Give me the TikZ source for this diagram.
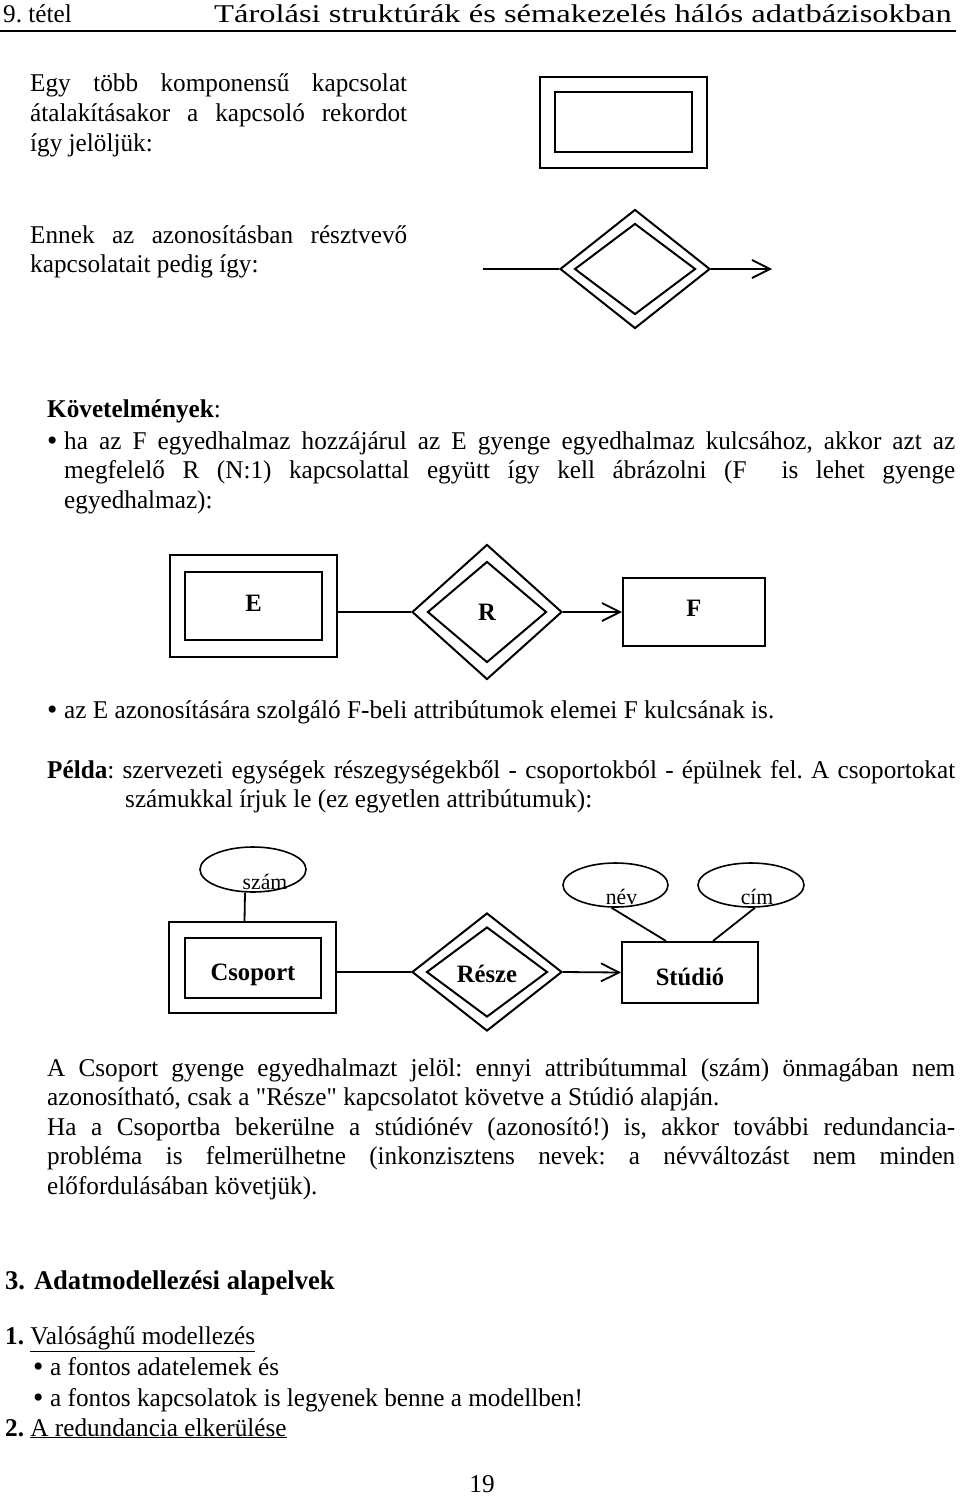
\documentclass[tikz,border=0pt]{standalone}
\usepackage{fontspec}
\setmainfont{Liberation Serif}[FakeStretch=0.985]
\newfontfamily\szeles{Liberation Serif}[FakeStretch=1.27]
\usetikzlibrary{shapes.geometric,arrows.meta}
\newcommand\torzs{\fontsize{25.6}{29.5}\selectfont\frenchspacing}
\newcommand\cimke{\fontsize{25}{28}\selectfont\bfseries}
\newcommand\tcimke{\fontsize{22}{24}\selectfont}
\newcommand\pont{\makebox[14pt][l]{\hspace{-3pt}\raisebox{-1pt}{\fontsize{30}{30}\selectfont •}}}
\newcommand\lent[2]{\raisebox{-#1pt}[0pt][0pt]{#2}}
\tikzset{>={Straight Barb[length=18pt,width=18pt]}}
\tikzset{
  szoveg/.style={inner sep=0pt,font=\torzs,anchor=base west},
  bekezd/.style={szoveg,text width=#1,align=justify,
    execute at begin node={\hyphenpenalty=10000}},
  egyed/.style={draw,rectangle,line width=2pt,inner sep=0pt,font=\cimke},
  kapcs/.style={draw,diamond,line width=2pt,inner sep=0pt,font=\cimke},
  tulaj/.style={draw,ellipse,line width=1.6pt,inner sep=0pt},
  vonal/.style={line width=1.8pt}
}

\begin{document}
\begin{tikzpicture}[x=1pt,y=-1pt]
    \useasboundingbox (0,0) rectangle (960,1496);
    % fejlec
    \node[szoveg] (fszam) at (3,23) {9. tétel};
    \node[szoveg,font=\torzs\szeles,anchor=base east] (fcim) at (952,23) {Tárolási struktúrák és sémakezelés hálós adatbázisokban};
    \draw[line width=2pt] (0,31) -- (956,31);

    % kapcsolo rekord
    \node[bekezd=377pt] (p1) at (30,92) {Egy több komponensű kapcsolat\linebreak átalakításakor a kapcsoló rekordot\linebreak így jelöljük:};
    \node[egyed,minimum width=167pt,minimum height=91pt] (rk) at (623.5,122.5) {};
    \node[egyed,minimum width=137pt,minimum height=60pt] (rb) at (623.5,122) {};

    % azonosito kapcsolat
    \node[bekezd=377pt] (p2) at (30,243) {Ennek az azonosításban résztvevő\linebreak kapcsolatait pedig így:};
    \coordinate (kbe) at (483,269);
    \coordinate (kki) at (772,269);
    \node[kapcs,minimum width=150pt,minimum height=119pt] (ak) at (635,269) {};
    \node[kapcs,minimum width=121pt,minimum height=91pt] (ab) at (635,269) {};
    \draw[vonal] (kbe) -- (ak.west);
    \draw[vonal,->] (ak.east) -- (kki);

    % kovetelmenyek
    \node[szoveg] (kov) at (47,417) {\textbf{Követelmények}:};
    \node[bekezd=905pt] (b1) at (50,449) {\hangindent=14pt\hangafter=1 \pont ha az F egyedhalmaz hozzájárul az E gyenge egyedhalmaz kulcsához, akkor azt az\linebreak megfelelő R (N:1) kapcsolattal együtt így kell ábrázolni (F\ \ is lehet gyenge\linebreak egyedhalmaz):\par};

    \node[egyed,minimum width=167pt,minimum height=102pt] (ek) at (253.5,606) {};
    \node[egyed,minimum width=137pt,minimum height=68pt] (eb) at (253.5,606) {\lent{5.5}{E}};
    \node[kapcs,minimum width=150pt,minimum height=135pt] (rk3) at (487,612) {};
    \node[kapcs,minimum width=119pt,minimum height=101pt] (rb3) at (487,612) {\lent{8}{R}};
    \node[egyed,minimum width=142pt,minimum height=68pt] (f) at (694,612) {\lent{4}{F}};
    \draw[vonal] (ek.east |- rk3.west) -- (rk3.west);
    \draw[vonal,->] (rk3.east) -- (f.west);

    \node[szoveg] (b2) at (50,718) {\pont az E azonosítására szolgáló F-beli attribútumok elemei F kulcsának is.};

    % pelda
    \node[bekezd=908pt] (pl) at (47,778) {\hangindent=78pt\hangafter=1 \textbf{Példa}: szervezeti egységek részegységekből - csoportokból - épülnek fel. A csoportokat\linebreak számukkal írjuk le (ez egyetlen attribútumuk):\par};

    \node[tulaj,minimum width=106pt,minimum height=45pt,label={[font=\tcimke,inner sep=0pt,xshift=12pt,yshift=-12pt]center:szám}] (szam) at (253,869.5) {};
    \node[egyed,minimum width=167pt,minimum height=91pt] (csopk) at (252.5,967.5) {};
    \node[egyed,minimum width=136pt,minimum height=60pt] (csopb) at (253,968) {\lent{12.5}{Csoport}};
    \node[kapcs,minimum width=150pt,minimum height=118pt] (reszk) at (487,972) {};
    \node[kapcs,minimum width=121pt,minimum height=90pt] (reszb) at (487,972) {\lent{10}{Része}};
    \node[egyed,minimum width=136pt,minimum height=61pt] (stud) at (690,972.5) {\lent{12.5}{Stúdió}};
    \node[tulaj,minimum width=105pt,minimum height=44pt,label={[font=\tcimke,inner sep=0pt,xshift=6pt,yshift=-12pt]center:név}] (nev) at (615.5,885) {};
    \node[tulaj,minimum width=106pt,minimum height=44pt,label={[font=\tcimke,inner sep=0pt,xshift=6pt,yshift=-12pt]center:cím}] (cim) at (751,885) {};
    \draw[vonal] ([xshift=-8pt]szam.south) -- ([xshift=-8pt]csopk.north);
    \draw[vonal] (csopk.east |- reszk.west) -- (reszk.west);
    \draw[vonal,->] (reszk.east) -- (stud.west);
    \draw[vonal] (nev.-100) -- ([xshift=-24pt]stud.north);
    \draw[vonal] (cim.-80) -- ([xshift=23pt]stud.north);

    \node[bekezd=908pt] (magy) at (47,1076) {A Csoport gyenge egyedhalmazt jelöl: ennyi attribútummal (szám) önmagában nem\linebreak azonosítható, csak a \textquotedbl Része\textquotedbl{} kapcsolatot követve a Stúdió alapján.\par Ha a Csoportba bekerülne a stúdiónév (azonosító!) is, akkor további redundancia-\linebreak probléma is felmerülhetne (inkonzisztens nevek: a névváltozást nem minden\linebreak előfordulásában követjük).};

    % alapelvek
    \node[szoveg,font=\fontsize{27}{30}\selectfont\bfseries] (fej3) at (5,1289) {3. Adatmodellezési alapelvek};
    \node[szoveg] (e1) at (5,1344) {\textbf{1.} \underline{Valósághű modellezés}};
    \node[szoveg] (e1a) at (36,1375) {\pont a fontos adatelemek és};
    \node[szoveg] (e1b) at (36,1406) {\pont a fontos kapcsolatok is legyenek benne a modellben!};
    \node[szoveg] (e2) at (5,1436) {\textbf{2.} \underline{A redundancia elkerülése}};
    \node[szoveg,anchor=base] (oldal) at (482,1492) {19};
\end{tikzpicture}
\end{document}
